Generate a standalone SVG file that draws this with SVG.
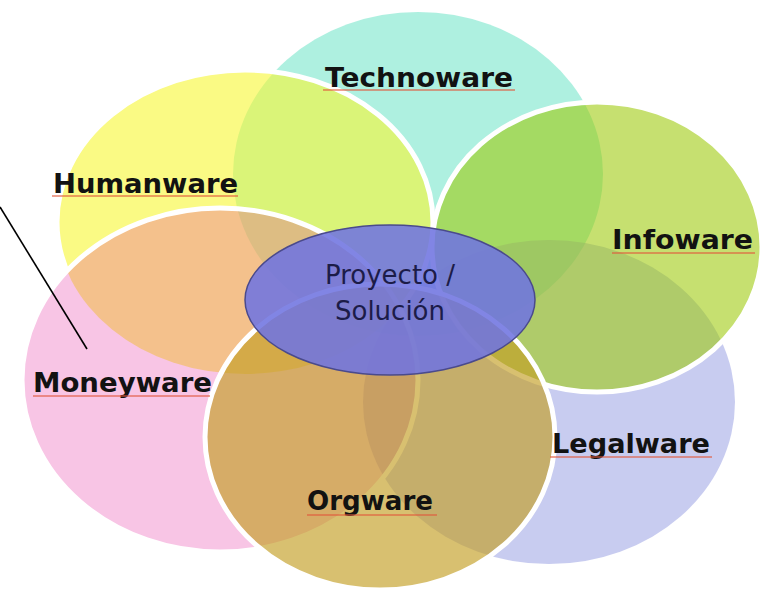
<svg xmlns="http://www.w3.org/2000/svg" width="769" height="593" viewBox="0 0 769 593">
<style>
.lbl{font-family:"DejaVu Sans","Verdana",sans-serif;font-weight:bold;font-size:27px;fill:#121212}
.ctr{font-family:"DejaVu Sans","Verdana",sans-serif;font-size:26px;fill:#1c1c48;text-anchor:middle}
.edge{stroke:#fff;stroke-width:5}
.sq{stroke:#e0583c;stroke-width:1.3;stroke-opacity:0.75;fill:none}
</style>
<defs>
<mask id="mH" maskUnits="userSpaceOnUse" x="0" y="0" width="769" height="593">
<rect width="769" height="593" fill="#fff"/>
<ellipse cx="220" cy="380" rx="198" ry="172" fill="#000"/>
</mask>
</defs>
<rect width="769" height="593" fill="#fff"/>
<g id="technoware"><ellipse cx="418" cy="174" rx="185" ry="162" fill="#5de1c1" fill-opacity="0.5"/></g>
<g id="legalware"><ellipse cx="549" cy="402" rx="186" ry="162" fill="#9199e1" fill-opacity="0.5"/></g>
<g id="humanware">
<ellipse cx="245" cy="222" rx="188" ry="152" fill="#f7f732" fill-opacity="0.6"/>
<ellipse cx="245" cy="222" rx="188" ry="152" fill="none" class="edge" mask="url(#mH)"/>
</g>
<g id="infoware"><ellipse cx="597" cy="247" rx="165" ry="145" fill="#9dca09" fill-opacity="0.58" class="edge"/></g>
<g id="moneyware"><ellipse cx="220" cy="380" rx="198" ry="172" fill="#e62fa0" fill-opacity="0.28" class="edge"/></g>
<g id="orgware"><ellipse cx="380" cy="437" rx="175" ry="153" fill="#c39e23" fill-opacity="0.65" class="edge"/></g>
<g id="proyecto">
<ellipse cx="390" cy="300" rx="145" ry="75" fill="#7074e0" fill-opacity="0.88" stroke="#4a4a8c" stroke-width="1.5"/>
<text class="ctr" x="390" y="284">Proyecto /</text>
<text class="ctr" x="390" y="320">Solución</text>
</g>
<g id="labels">
<g id="technoware-label"><text class="lbl" x="325" y="87" textLength="188" lengthAdjust="spacingAndGlyphs">Technoware</text><line class="sq" x1="323" y1="90" x2="515" y2="90"/></g>
<g id="humanware-label"><text class="lbl" x="53" y="193" textLength="185" lengthAdjust="spacingAndGlyphs">Humanware</text><line class="sq" x1="52" y1="196" x2="238" y2="196"/></g>
<g id="infoware-label"><text class="lbl" x="612" y="249" textLength="141" lengthAdjust="spacingAndGlyphs">Infoware</text><line class="sq" x1="612" y1="253" x2="755" y2="253"/></g>
<g id="moneyware-label"><text class="lbl" x="33" y="392" textLength="179" lengthAdjust="spacingAndGlyphs">Moneyware</text><line class="sq" x1="33" y1="396" x2="210" y2="396"/></g>
<g id="legalware-label"><text class="lbl" x="552" y="453" textLength="158" lengthAdjust="spacingAndGlyphs">Legalware</text><line class="sq" x1="550" y1="457" x2="712" y2="457"/></g>
<g id="orgware-label"><text class="lbl" x="307" y="510" textLength="126" lengthAdjust="spacingAndGlyphs">Orgware</text><line class="sq" x1="307" y1="515" x2="437" y2="515"/></g>
</g>
<g id="connectors">
<line x1="0" y1="207" x2="87" y2="349" stroke="#000" stroke-width="1.6"/>
</g>
</svg>
